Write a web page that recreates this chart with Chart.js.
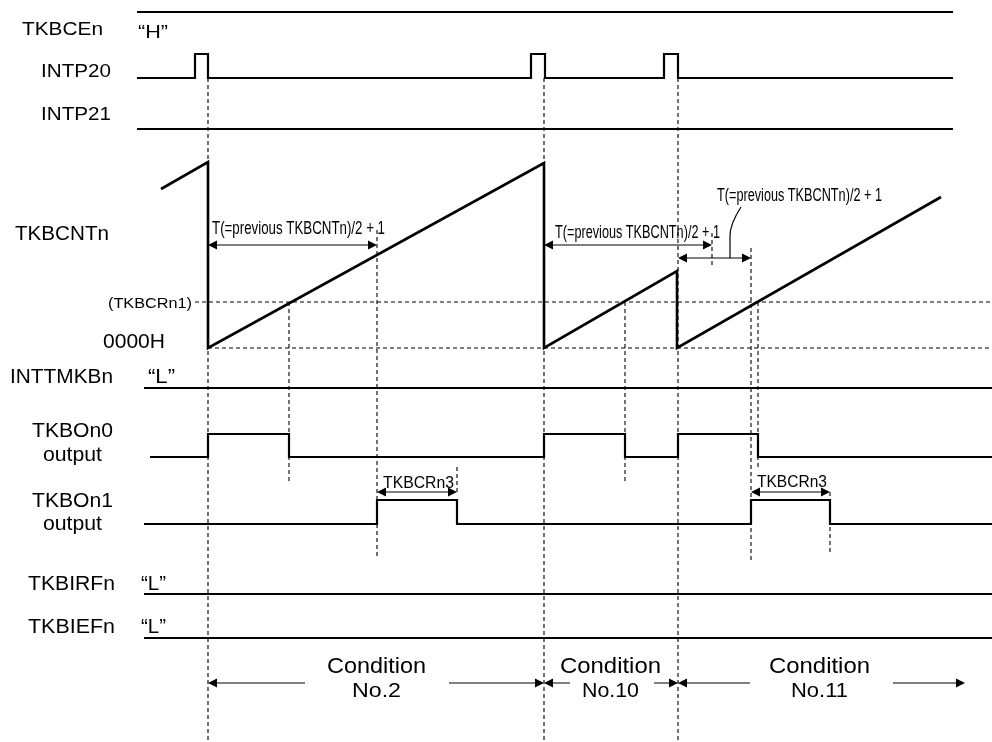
<!DOCTYPE html>
<html>
<head>
<meta charset="utf-8">
<script src="https://cdn.jsdelivr.net/npm/chart.js@4/dist/chart.umd.min.js"></script>
<style>
  html, body { margin: 0; padding: 0; background: #fff; }
  #wrap { width: 992px; height: 742px; }
</style>
</head>
<body>
<div id="wrap"><canvas id="timing"></canvas></div>
<script>
// time axis runs 0..992, lane levels on y (0..742 top down)
const upperStart = 137, upperEnd = 953, lowerEnd = 992;

const intp20Rise = [195, 531, 664];
const intp20Fall = [208, 545, 678];

// counter TKBCNTn (counts, 0 = 0000H)
const cntTime = [161, 208, 208, 544, 544, 677, 677, 941];
const cntValue = [159, 186, 0, 185, 0, 77, 0, 151];
const tkbcrn1 = 46;

const tkbo0Rise = [208, 544, 678];
const tkbo0Fall = [289, 625, 758];
const tkbo1Rise = [377, 751];
const tkbo1Fall = [457, 830];

// vertical guide lines: time, top, bottom
const guideTime = [208, 544, 678, 289, 377, 457, 625, 712, 751, 758, 830];
const guideTop = [78, 78, 78, 302, 230, 467, 302, 233, 248, 302, 492];
const guideBottom = [742, 742, 742, 483, 557, 492, 482, 268, 560, 470, 552];

// dimension arrows: from, to, level
const dimFrom = [208, 544, 678, 377, 751];
const dimTo = [377, 712, 751, 457, 830];
const dimLevel = [245, 245, 258, 492, 492];

// condition spans
const condFrom = [208, 544, 678];
const condTo = [544, 678, 965];
const condGapFrom = [305, 570, 750];
const condGapTo = [449, 654, 893];
const condNames = ["No.2", "No.10", "No.11"];

function steps(start, end, low, high, rise, fall) {
  const pts = [{ x: start, y: low }];
  rise.forEach((r, i) => {
    pts.push({ x: r, y: low }, { x: r, y: high }, { x: fall[i], y: high }, { x: fall[i], y: low });
  });
  pts.push({ x: end, y: low });
  return pts;
}

const signalSets = [
  steps(upperStart, upperEnd, 12, 12, [], []),
  steps(upperStart, upperEnd, 78, 54, intp20Rise, intp20Fall),
  steps(upperStart, upperEnd, 129, 129, [], []),
  steps(144, lowerEnd, 388, 388, [], []),
  steps(150, lowerEnd, 457, 434, tkbo0Rise, tkbo0Fall),
  steps(144, lowerEnd, 524, 500, tkbo1Rise, tkbo1Fall),
  steps(144, lowerEnd, 594, 594, [], []),
  steps(144, lowerEnd, 638, 638, [], []),
];

const guidePts = [];
guideTime.forEach((t, i) => {
  guidePts.push({ x: t, y: guideTop[i] }, { x: t, y: guideBottom[i] }, { x: t, y: null });
});

const datasets = signalSets.map(d => ({
  data: d, borderColor: "#000", borderWidth: 2.2, yAxisID: "y",
}));
datasets.push({
  data: cntTime.map((t, i) => ({ x: t, y: cntValue[i] })),
  borderColor: "#000", borderWidth: 2.6, yAxisID: "yc",
});
datasets.push({
  data: [{ x: 195, y: tkbcrn1 }, { x: lowerEnd, y: tkbcrn1 }, { x: 200, y: null },
         { x: 208, y: 0 }, { x: lowerEnd, y: 0 }],
  borderColor: "#000", borderWidth: 1.1, borderDash: [4, 3], yAxisID: "yc",
});
datasets.push({
  data: guidePts, borderColor: "#000", borderWidth: 1.1, borderDash: [4, 3], yAxisID: "y",
});

const labels = [
  ["TKBCEn", 22, 103, 35, 19], ["\u201CH\u201D", 138, 168, 38, 19],
  ["INTP20", 41, 111, 77, 19], ["INTP21", 41, 111, 120, 19],
  ["TKBCNTn", 15, 109, 240, 20], ["(TKBCRn1)", 108, 192, 308, 15],
  ["0000H", 103, 165, 348, 20], ["INTTMKBn", 10, 113, 383, 20],
  ["\u201CL\u201D", 148, 175, 383, 20],
  ["TKBOn0", 32, 113, 437, 20], ["output", 43, 102, 461, 20],
  ["TKBOn1", 32, 113, 507, 20], ["output", 43, 102, 530, 20],
  ["TKBIRFn", 28, 115, 590, 20], ["\u201CL\u201D", 141, 166, 590, 20],
  ["TKBIEFn", 28, 115, 633, 20], ["\u201CL\u201D", 141, 166, 633, 20],
  ["T(=previous TKBCNTn)/2 + 1", 212, 385, 234, 17.5],
  ["T(=previous TKBCNTn)/2 + 1", 555, 720, 238, 17.5],
  ["T(=previous TKBCNTn)/2 + 1", 717, 882, 201, 17.5],
  ["TKBCRn3", 383, 454, 488, 16.5], ["TKBCRn3", 757, 827, 487, 16.5],
  ["Condition", 327, 426, 673, 22], ["Condition", 560, 661, 673, 22],
  ["Condition", 769, 870, 673, 22],
  [condNames[0], 352, 401, 697, 21], [condNames[1], 582, 639, 697, 21],
  [condNames[2], 791, 848, 697, 21],
];

function fitText(ctx, s, x0, x1, base, size) {
  ctx.font = size + "px 'Liberation Sans', Arial, sans-serif";
  const w = ctx.measureText(s).width;
  ctx.save();
  ctx.translate(x0, base);
  ctx.scale((x1 - x0) / w, 1);
  ctx.fillText(s, 0, 0);
  ctx.restore();
}

function head(ctx, x, y, dir) {
  ctx.beginPath();
  ctx.moveTo(x, y);
  ctx.lineTo(x - dir * 9, y - 4.5);
  ctx.lineTo(x - dir * 9, y + 4.5);
  ctx.closePath();
  ctx.fill();
}

const annotate = {
  id: "annotate",
  afterDatasetsDraw(chart) {
    const { ctx } = chart;
    const X = v => chart.scales.x.getPixelForValue(v);
    const Y = v => chart.scales.y.getPixelForValue(v);
    ctx.save();
    ctx.fillStyle = "#000";
    ctx.strokeStyle = "#000";
    ctx.textBaseline = "alphabetic";
    labels.forEach(l => fitText(ctx, l[0], X(l[1]), X(l[2]), Y(l[3]), l[4]));

    // dimension arrows
    ctx.lineWidth = 1.2;
    dimFrom.forEach((f, i) => {
      const y = Y(dimLevel[i]);
      ctx.beginPath();
      ctx.moveTo(X(f) + 2, y);
      ctx.lineTo(X(dimTo[i]) - 2, y);
      ctx.stroke();
      head(ctx, X(f), y, -1);
      head(ctx, X(dimTo[i]), y, 1);
    });

    // leader to third label
    ctx.beginPath();
    ctx.moveTo(X(741), Y(207));
    ctx.quadraticCurveTo(X(730), Y(224), X(730), Y(236));
    ctx.lineTo(X(730), Y(258));
    ctx.stroke();

    // condition spans
    ctx.strokeStyle = "#555";
    ctx.lineWidth = 1.5;
    condFrom.forEach((f, i) => {
      const y = Y(683);
      ctx.beginPath();
      ctx.moveTo(X(f) + 3, y);
      ctx.lineTo(X(condGapFrom[i]), y);
      ctx.moveTo(X(condGapTo[i]), y);
      ctx.lineTo(X(condTo[i]) - 3, y);
      ctx.stroke();
      head(ctx, X(f), y, -1);
      head(ctx, X(condTo[i]), y, 1);
    });
    ctx.restore();
  },
};

new Chart(document.getElementById("timing"), {
  type: "scatter",
  data: { datasets },
  options: {
    responsive: true,
    maintainAspectRatio: false,
    animation: false,
    showLine: true,
    spanGaps: false,
    layout: { padding: 0 },
    elements: { point: { radius: 0 }, line: { tension: 0 } },
    plugins: { legend: { display: false }, tooltip: { enabled: false } },
    scales: {
      x: { type: "linear", min: 0, max: 992, display: false },
      y: { type: "linear", min: 0, max: 742, reverse: true, display: false },
      yc: { type: "linear", min: -394, max: 348, display: false },
    },
  },
  plugins: [annotate],
});
</script>
</body>
</html>
